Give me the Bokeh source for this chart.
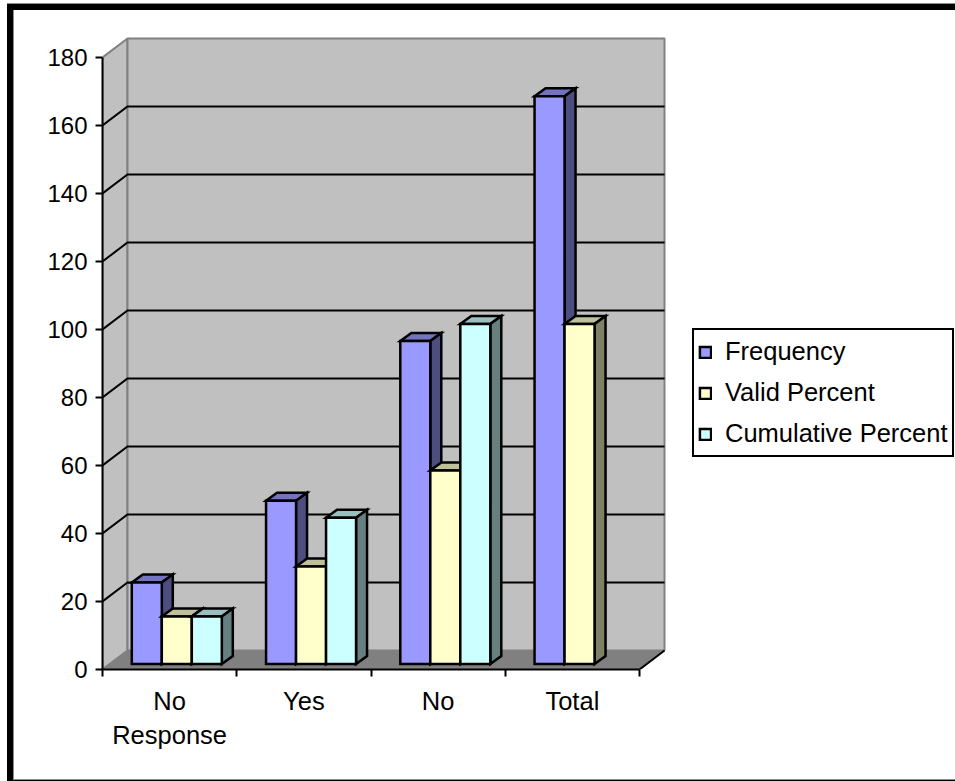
from bokeh.embed import file_html
from bokeh.models import ColumnDataSource, FixedTicker, Legend, LegendItem, LinearAxis, Range1d
from bokeh.plotting import figure
from bokeh.resources import INLINE

categories = ["No\nResponse", "Yes", "No", "Total"]
frequency = [24, 48, 95, 167]
valid_percent = [14, 28.7, 56.9, 100]
cumulative_percent = [14, 43, 100, None]
series_names = ["Frequency", "Valid Percent", "Cumulative Percent"]
y_ticks = [0, 20, 40, 60, 80, 100, 120, 140, 160, 180]

FONT = "Liberation Sans"
W, H = 955, 781
LEFT, BASE = 102, 669
PX_X, PX_Y = 134.25, 3.4
CAT_EDGE = len(categories)
Y_TOP = y_ticks[-1]


def dx(px):
    return px / PX_X


def dy(px):
    return px / PX_Y


def band(color, x, y, w, h):
    return f"linear-gradient({color},{color}) {x}px {y}px/{w}px {h}px no-repeat"


WALL_X, WALL_Y = dx(25), dy(19)

p = figure(width=W, height=H, output_backend="svg", toolbar_location=None,
           x_axis_location=None, y_axis_location=None,
           x_range=Range1d(0, (W - LEFT) / PX_X), y_range=Range1d(0, BASE / PX_Y),
           min_border_left=LEFT, min_border_right=0, min_border_top=0, min_border_bottom=H - BASE)
p.grid.visible = False
p.outline_line_color = None
p.background_fill_color = None
p.border_fill_color = None

# Heavy page border behind the transparent canvas; it runs off the right and bottom edges
p.styles = {"background": ", ".join([
    band("black", 7, 4, 6, 777),
    band("black", 7, 4, 948, 6),
    band("black", 7, 780, 948, 1),
    band("#8c8c8c", 7, 3, 948, 1),
    band("#8c8c8c", 13, 779, 942, 1),
    band("#8c8c8c", 13, 10, 1, 769),
    "white",
])}

# Chart box: side wall, back wall and floor
p.patch([0, WALL_X, WALL_X, 0], [0, WALL_Y, Y_TOP + WALL_Y, Y_TOP],
        fill_color="#C0C0C0", line_color="#808080", line_width=2)
p.patch([WALL_X, CAT_EDGE + WALL_X, CAT_EDGE + WALL_X, WALL_X],
        [WALL_Y, WALL_Y, Y_TOP + WALL_Y, Y_TOP + WALL_Y],
        fill_color="#C0C0C0", line_color="#808080", line_width=2)
p.patch([0, CAT_EDGE, CAT_EDGE + WALL_X, WALL_X], [0, 0, WALL_Y, WALL_Y],
        fill_color="#808080", line_color="#808080", line_width=1)
p.line([CAT_EDGE, CAT_EDGE + WALL_X], [0, WALL_Y], line_color="black", line_width=2)

# Gridlines run up the side wall and across the back wall
grid = y_ticks[1:-1]
p.multi_line([[0, WALL_X, CAT_EDGE + WALL_X] for _ in grid],
             [[v, v + WALL_Y, v + WALL_Y] for v in grid],
             line_color="black", line_width=2, line_join="miter")

# Columns with their top and side faces
BAR_W = dx(30)
BAR_START = dx(29.3)
BAR_LIFT = dy(5.5)
DEPTH_X, DEPTH_Y = dx(11), dy(8)
palette = [("#9999FF", "#7373BF", "#4D4D80"),
           ("#FFFFCC", "#BFBF99", "#808066"),
           ("#CCFFFF", "#99BFBF", "#668080")]
style = dict(line_color="black", line_width=2.5, line_join="miter")
items = []
for s, (name, values, colors) in enumerate(zip(series_names,
                                               [frequency, valid_percent, cumulative_percent],
                                               palette)):
    kept = [(c, v) for c, v in enumerate(values) if v is not None]
    x0 = [c + BAR_START + s * BAR_W for c, _ in kept]
    x1 = [x + BAR_W for x in x0]
    top = [v + BAR_LIFT for _, v in kept]
    bottom = [BAR_LIFT] * len(kept)
    p.patches([[a, b, b + DEPTH_X, a + DEPTH_X] for a, b in zip(x0, x1)],
              [[t, t, t + DEPTH_Y, t + DEPTH_Y] for t in top], fill_color=colors[1], **style)
    p.patches([[b, b + DEPTH_X, b + DEPTH_X, b] for b in x1],
              [[u, u + DEPTH_Y, t + DEPTH_Y, t] for u, t in zip(bottom, top)],
              fill_color=colors[2], **style)
    front = p.quad(left="x0", right="x1", bottom="bottom", top="top", fill_color=colors[0], **style,
                   source=ColumnDataSource(dict(x0=x0, x1=x1, bottom=bottom, top=top)))
    items.append(LegendItem(label=name, renderers=[front]))

# Axes
y_axis = LinearAxis(ticker=FixedTicker(ticks=y_ticks), bounds=(0, Y_TOP))
y_axis.axis_line_width = 2
y_axis.major_tick_line_width = 2
y_axis.major_tick_out = 7
y_axis.major_tick_in = 0
y_axis.minor_tick_line_color = None
y_axis.major_label_text_font = FONT
y_axis.major_label_text_font_size = "24px"
y_axis.major_label_text_color = "black"
y_axis.major_label_standoff = 8
p.add_layout(y_axis, "left")

x_axis = LinearAxis(ticker=FixedTicker(ticks=[c + 0.5 for c in range(CAT_EDGE)],
                                       minor_ticks=list(range(CAT_EDGE + 1))),
                    bounds=(0, CAT_EDGE))
x_axis.major_label_overrides = {c + 0.5: name for c, name in enumerate(categories)}
x_axis.axis_line_width = 2
x_axis.major_tick_line_color = None
x_axis.minor_tick_line_width = 2
x_axis.minor_tick_out = 7
x_axis.minor_tick_in = 0
x_axis.major_label_text_font = FONT
x_axis.major_label_text_font_size = "25.5px"
x_axis.major_label_text_color = "black"
x_axis.major_label_text_line_height = 1.24
x_axis.major_label_standoff = 10
p.add_layout(x_axis, "below")

legend = Legend(items=items, location=(590, 212), border_line_color="black", border_line_width=2,
                border_line_alpha=1, background_fill_color="white", background_fill_alpha=1,
                label_text_font=FONT, label_text_font_size="25.5px", label_text_color="black",
                glyph_width=14, glyph_height=14, spacing=6, padding=4, margin=0, label_standoff=13,
                label_height=35)
p.add_layout(legend, "center")

open("out.html", "w").write(file_html(p, INLINE))
